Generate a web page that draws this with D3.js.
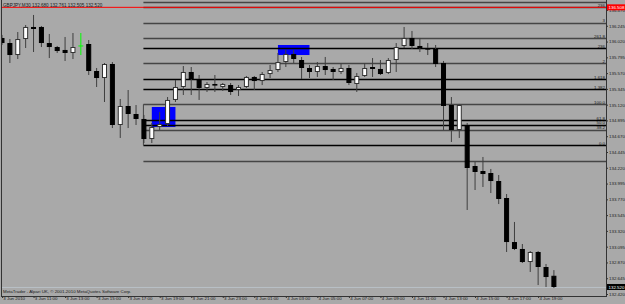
<!DOCTYPE html>
<html>
<head>
<meta charset="utf-8">
<script src="https://cdn.jsdelivr.net/npm/d3@7"></script>
<style>
body { margin: 0; background: #a9a9a9; }
svg { display: block; }
text { font-family: "Liberation Sans", Arial, sans-serif; }
</style>
</head>
<body>
<svg width="625" height="304"></svg>
<script>
// GBPJPY M30, 71 bars from 3 Jun 09:00 to 4 Jun 20:00 (2010)
var symbol = "GBPJPY,M30";
var open  = [136.071,135.999,135.828,136.056,136.228,136.228,135.999,135.942,135.900,135.857,
             135.957,135.985,135.600,135.500,135.700,134.830,135.101,134.987,134.916,134.630,
             134.801,134.844,135.187,135.372,135.586,135.486,135.358,135.415,135.372,135.400,
             135.329,135.372,135.515,135.457,135.557,135.614,135.728,135.843,135.757,135.643,
             135.586,135.671,135.629,135.586,135.643,135.415,135.529,135.657,135.629,135.572,
             135.757,135.957,136.071,135.957,135.928,135.914,135.714,135.115,134.759,134.830,
             134.245,134.174,134.145,134.031,133.789,133.161,133.062,132.876,133.019,132.805,
             132.680];
var high  = [136.114,136.056,136.156,136.256,136.399,136.242,136.128,135.957,136.085,136.142,
             136.142,136.042,135.643,135.714,135.728,135.201,135.329,135.115,134.973,134.859,
             135.015,135.229,135.472,135.671,135.657,135.543,135.443,135.543,135.429,135.429,
             135.400,135.529,135.529,135.586,135.686,135.857,135.900,135.900,135.800,135.686,
             135.728,135.800,135.657,135.700,135.686,135.572,135.714,135.785,135.757,135.785,
             135.999,136.228,136.171,136.071,135.999,135.971,135.743,135.229,135.130,134.859,
             134.302,134.374,134.203,134.117,133.846,133.447,133.133,133.033,133.033,132.848,
             132.761];
var low   = [135.971,135.714,135.771,135.928,135.871,135.942,135.785,135.857,135.743,135.771,
             135.828,135.543,135.372,135.158,134.787,134.645,134.787,134.830,134.573,134.573,
             134.759,134.816,135.158,135.258,135.258,135.187,135.301,135.301,135.315,135.258,
             135.244,135.358,135.329,135.400,135.500,135.586,135.657,135.714,135.486,135.500,
             135.515,135.543,135.472,135.557,135.400,135.301,135.515,135.515,135.543,135.557,
             135.586,135.928,135.914,135.871,135.828,135.657,134.759,134.588,134.645,133.618,
             133.903,133.946,133.860,133.703,133.019,133.047,132.862,132.734,132.548,132.520,
             132.505];
var close = [135.999,135.828,136.056,136.228,136.199,135.999,135.942,135.885,135.857,135.942,
             135.957,135.600,135.500,135.700,134.830,135.101,134.987,134.916,134.630,134.801,
             134.844,135.187,135.372,135.586,135.486,135.358,135.415,135.408,135.415,135.301,
             135.372,135.515,135.457,135.557,135.614,135.728,135.843,135.771,135.643,135.586,
             135.671,135.614,135.586,135.643,135.429,135.529,135.643,135.629,135.557,135.757,
             135.942,136.071,135.957,135.928,135.921,135.700,135.101,134.759,135.115,134.217,
             134.160,134.131,134.031,133.775,133.161,133.062,132.876,133.019,132.805,132.662,
             132.520];

// time axis: one label every 4 bars
var timeTickBars = [0,4,8,12,16,20,24,28,32,36,40,44,48,52,56,60,64,68];
var timeLabels = ["3 Jun 2010","3 Jun 11:00","3 Jun 13:00","3 Jun 15:00","3 Jun 17:00",
                  "3 Jun 19:00","3 Jun 21:00","3 Jun 23:00","4 Jun 01:00","4 Jun 03:00",
                  "4 Jun 05:00","4 Jun 07:00","4 Jun 09:00","4 Jun 11:00","4 Jun 13:00",
                  "4 Jun 15:00","4 Jun 17:00","4 Jun 19:00"];
var priceTicks = [136.470,136.245,136.020,135.795,135.570,135.345,135.120,134.895,134.670,
                  134.445,134.220,133.995,133.770,133.545,133.320,133.095,132.870,132.645,132.420];

// fibonacci levels drawn from bar 18 to the right edge
var fiboStartBar = 18;
var fiboPrices = [136.584,136.508,136.289,136.066,135.924,135.710,135.482,135.339,
                  135.125,134.897,134.830,134.759,134.541,134.321];
var fiboLabels = ["","236","3","261.8","236","2","1.618","1.382",
                  "100.0","61.8","50.0","38.2","0.0",""];

// blue rectangles (bar from, bar to, price top, price bottom)
var rectFrom = [19, 35];
var rectTo = [22, 39];
var rectTop = [135.087, 135.971];
var rectBottom = [134.801, 135.828];

var hlinePrice = 136.508;
var copyright = "MetaTrader - Alpari UK, \u00a9 2001-2010 MetaQuotes Software Corp.";

var svg = d3.select("svg"),
    width = +svg.attr("width"),
    height = +svg.attr("height");

var plotLeft = 2, plotRight = 606, plotBottom = 296;
var fmt = d3.format(".3f");

var x = d3.scaleLinear().domain([0, 70]).range([2, 553.9]);
var y = d3.scaleLinear().domain([132.420, 136.470]).range([294, 10]);

svg.append("rect").attr("width", width).attr("height", height).attr("fill", "#a9a9a9");

svg.append("defs").append("clipPath").attr("id", "plot")
  .append("rect").attr("x", plotLeft).attr("y", 0)
  .attr("width", plotRight - plotLeft).attr("height", plotBottom);

var plot = svg.append("g").attr("clip-path", "url(#plot)");

// rectangles sit behind everything
plot.selectAll("rect.box").data(rectFrom).enter().append("rect")
  .attr("class", "box")
  .attr("x", function(d) { return x(d); })
  .attr("width", function(d, i) { return x(rectTo[i]) - x(d); })
  .attr("y", function(d, i) { return y(rectTop[i]); })
  .attr("height", function(d, i) { return y(rectBottom[i]) - y(rectTop[i]); })
  .attr("fill", "#0000ff");

// fibo lines, some black and some dark grey
var blackLevels = ["236", "1.618", "1.382", "61.8", "50.0", "0.0"];
plot.selectAll("line.fibo").data(fiboPrices).enter().append("line")
  .attr("class", "fibo")
  .attr("x1", x(fiboStartBar) - 0.5).attr("x2", plotRight)
  .attr("y1", function(d) { return Math.round(y(d)) + 0.5; })
  .attr("y2", function(d) { return Math.round(y(d)) + 0.5; })
  .attr("stroke", function(d, i) {
    return (blackLevels.indexOf(fiboLabels[i]) >= 0 && i > 1) ? "#000" : "#454545";
  })
  .attr("stroke-width", 1.3);

// vertical edge of the retracement between 100.0 and 0.0
plot.append("line")
  .attr("x1", x(fiboStartBar) - 0.5).attr("x2", x(fiboStartBar) - 0.5)
  .attr("y1", y(fiboPrices[8])).attr("y2", y(fiboPrices[12]))
  .attr("stroke", "#454545").attr("stroke-width", 1);

plot.selectAll("text.fibo").data(fiboLabels).enter().append("text")
  .attr("class", "fibo")
  .attr("x", plotRight - 1)
  .attr("y", function(d, i) { return y(fiboPrices[i]) - 0.6; })
  .attr("text-anchor", "end")
  .attr("font-size", 4.4)
  .attr("fill", "#1a1a1a")
  .text(function(d) { return d; });

// red horizontal line
plot.append("line")
  .attr("x1", plotLeft).attr("x2", plotRight)
  .attr("y1", y(hlinePrice)).attr("y2", y(hlinePrice))
  .attr("stroke", "#ff0000").attr("stroke-width", 1);

// bid line
var last = close.length - 1;
plot.append("line")
  .attr("x1", plotLeft).attr("x2", plotRight)
  .attr("y1", y(close[last]) + 0.5).attr("y2", y(close[last]) + 0.5)
  .attr("stroke", "#b9c0c6").attr("stroke-width", 1);

// candles
var candle = plot.selectAll("g.candle").data(open).enter().append("g")
  .attr("class", "candle")
  .attr("transform", function(d, i) { return "translate(" + x(i) + ",0)"; });

candle.each(function(d, i) {
  var g = d3.select(this);
  var doji = open[i] == close[i];
  g.append("line")
    .attr("x1", 0).attr("x2", 0)
    .attr("y1", y(high[i])).attr("y2", y(low[i]))
    .attr("stroke", doji ? "#00ff00" : "#3f3f3f")
    .attr("stroke-width", 1);
  if (doji) {
    // MT4 draws a doji as a cross in the line colour
    g.append("line").attr("x1", -2.5).attr("x2", 2.5)
      .attr("y1", y(open[i])).attr("y2", y(open[i]))
      .attr("stroke", "#00ff00").attr("stroke-width", 1);
    return;
  }
  var up = close[i] > open[i];
  var top = y(Math.max(open[i], close[i]));
  var bot = y(Math.min(open[i], close[i]));
  g.append("rect")
    .attr("x", -2).attr("width", 4)
    .attr("y", top + 0.5)
    .attr("height", Math.max(0.6, bot - top - 1))
    .attr("fill", up ? "#ffffff" : "#000000")
    .attr("stroke", up ? "#333333" : "#000000")
    .attr("stroke-width", 1);
});

// axes
var yAxis = d3.axisRight(y)
  .tickValues(priceTicks)
  .tickFormat(fmt)
  .tickSize(2)
  .tickPadding(1);

var gy = svg.append("g")
  .attr("transform", "translate(" + plotRight + ",0)")
  .call(yAxis);
gy.select(".domain").remove();
gy.selectAll("line").attr("stroke", "#333");
gy.selectAll("text").attr("font-size", 4.4).attr("fill", "#1a1a1a")
  .attr("font-family", "Liberation Sans, Arial, sans-serif");

var xAxis = d3.axisBottom(x)
  .tickValues(timeTickBars)
  .tickFormat(function(d, i) { return timeLabels[i]; })
  .tickSize(2)
  .tickSizeOuter(0);

var gx = svg.append("g")
  .attr("transform", "translate(0," + plotBottom + ")")
  .call(xAxis);
gx.select(".domain").remove();
gx.selectAll("line").attr("stroke", "#333");
gx.selectAll("text")
  .attr("font-size", 4.4).attr("fill", "#1a1a1a")
  .attr("font-family", "Liberation Sans, Arial, sans-serif")
  .attr("text-anchor", "start")
  .attr("x", 0.8).attr("y", 1.2).attr("dy", "0.71em");

// frame
svg.append("line").attr("x1", plotLeft - 0.5).attr("x2", plotLeft - 0.5)
  .attr("y1", 0).attr("y2", plotBottom).attr("stroke", "#333");
svg.append("line").attr("x1", plotRight + 0.5).attr("x2", plotRight + 0.5)
  .attr("y1", 0).attr("y2", plotBottom).attr("stroke", "#333");
svg.append("line").attr("x1", plotLeft - 1).attr("x2", plotRight + 1)
  .attr("y1", plotBottom + 0.5).attr("y2", plotBottom + 0.5).attr("stroke", "#333");

// price boxes on the axis
function priceBox(p, bg, fg) {
  var g = svg.append("g").attr("transform", "translate(" + (plotRight + 1) + "," + y(p) + ")");
  g.append("rect").attr("x", 0).attr("y", -3).attr("width", 20).attr("height", 6).attr("fill", bg);
  g.append("text").attr("x", 1.5).attr("y", 1.6).attr("font-size", 4.4).attr("fill", fg).text(fmt(p));
}
priceBox(hlinePrice, "#ff0000", "#ffffff");
priceBox(close[last], "#000000", "#ffffff");

// header and footer text
svg.append("text").attr("x", 3).attr("y", 6.8).attr("font-size", 4.6).attr("fill", "#1a1a1a")
  .text(symbol + " " + [open[last], high[last], low[last], close[last]].map(fmt).join(" "));
svg.append("text").attr("x", 3).attr("y", 293).attr("font-size", 4.4).attr("fill", "#1a1a1a")
  .text(copyright);
</script>
</body>
</html>
